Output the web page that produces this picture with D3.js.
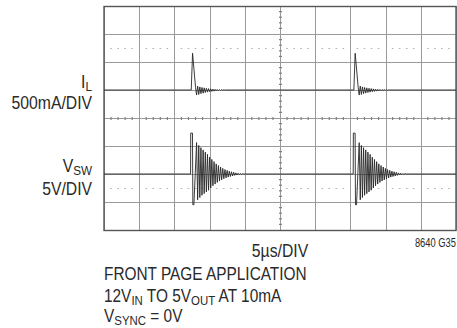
<!DOCTYPE html>
<meta charset="utf-8">
<style>
    body { margin: 0; background: #fff; }
    text { font-family: "Liberation Sans", Arial, sans-serif; fill: #2a2a2a; }
    .grid line { stroke: #9a9a9a; stroke-width: 1; }
    .trace { fill: none; stroke: #262626; stroke-width: 0.9; }
</style>
<script src="https://d3js.org/d3.v7.min.js"></script>
<svg width="457" height="328"></svg>
<script>
    // time axis: 5us/DIV, 10 divisions
    var timeDomain = [0, 50];
    // switching events (us)
    var eventTimes = [12.3, 35.4];

    // inductor current around one event (dt in us, mA)
    var ilT = [0, 0.09, 0.28, 0.71, 0.85, 1.0, 1.16, 1.31, 1.47, 1.62, 1.78, 1.93, 2.09, 2.24, 2.40, 2.55, 2.71, 2.86, 3.02, 3.17, 3.33, 3.48, 3.64, 3.79, 3.95, 4.10, 4.26, 4.41, 4.57, 4.72, 4.88, 5.0];
    var ilV = [0, 0, 655, 40, -90, 70, -80, 55, -65, 45, -55, 38, -45, 30, -38, 25, -30, 20, -25, 16, -20, 12, -15, 10, -12, 8, -9, 6, -6, 4, -4, 0];

    // switch node voltage around one event (dt in us, V)
    var vswT = [0, 0.02, 0.27, 0.32, 0.47, 0.85, 1.0, 1.16, 1.31, 1.47, 1.62, 1.78, 1.93, 2.09, 2.24, 2.40, 2.55, 2.71, 2.86, 3.02, 3.17, 3.33, 3.48, 3.64, 3.79, 3.95, 4.10, 4.26, 4.41, 4.57, 4.72, 4.88, 5.03, 5.19, 5.34, 5.50, 5.65, 5.81, 5.96, 6.12, 6.27, 6.43, 6.58, 6.74, 6.89, 7.05, 7.2, 7.36, 7.51];
    var vswV = [0, 7.3, 7.3, -5.5, -5.5, 5.6, -4.6, 5.1, -4.2, 4.7, -3.8, 4.3, -3.5, 3.9, -3.2, 3.5, -2.9, 3.0, -2.5, 2.6, -2.1, 2.2, -1.8, 1.8, -1.5, 1.5, -1.25, 1.25, -1.05, 1.0, -0.85, 0.8, -0.7, 0.65, -0.55, 0.5, -0.45, 0.4, -0.35, 0.3, -0.25, 0.2, -0.18, 0.15, -0.12, 0.1, -0.08, 0.05, 0];

    var svg = d3.select("svg");
    var pLeft = 104, pRight = 456, pTop = 6, pBottom = 230;

    var x = d3.scaleLinear().domain(timeDomain).range([pLeft, pRight]);
    var div = d3.scaleLinear().domain([-4, 4]).range([pBottom, pTop]);
    // channel scales: IL zero one div above centre, VSW zero two divs below
    var ilY = d3.scaleLinear().domain([-2500, 1500]).range([pBottom, pTop]);
    var vswY = d3.scaleLinear().domain([-10, 30]).range([pBottom, pTop]);

    var grid = svg.append("g").attr("class", "grid");
    grid.selectAll(".v").data(x.ticks(10)).enter().append("line")
        .attr("x1", function (d) { return Math.round(x(d)) + 0.5; })
        .attr("x2", function (d) { return Math.round(x(d)) + 0.5; })
        .attr("y1", pTop).attr("y2", pBottom);
    grid.selectAll(".h").data(div.ticks(8)).enter().append("line")
        .attr("y1", function (d) { return Math.round(div(d)) + 0.5; })
        .attr("y2", function (d) { return Math.round(div(d)) + 0.5; })
        .attr("x1", pLeft).attr("x2", pRight);

    // dotted lines at +/-2.5 div
    var minor = d3.range(0, 51).filter(function (d) { return d % 5 !== 0; });
    [2.5, -2.5].forEach(function (lv) {
        svg.append("g").selectAll("line").data(minor).enter().append("line")
            .attr("x1", function (d) { return x(d) - 0.8; })
            .attr("x2", function (d) { return x(d) + 0.8; })
            .attr("y1", Math.round(div(lv)) + 0.5)
            .attr("y2", Math.round(div(lv)) + 0.5)
            .attr("stroke", "#b0b0b0").attr("stroke-width", 1);
    });

    // minor ticks on centre lines
    var cy = Math.round(div(0)) + 0.5, cx = Math.round(x(25)) + 0.5;
    svg.append("g").selectAll("line").data(minor).enter().append("line")
        .attr("x1", function (d) { return x(d); })
        .attr("x2", function (d) { return x(d); })
        .attr("y1", cy - 1.5).attr("y2", cy + 1.5)
        .attr("stroke", "#808080").attr("stroke-width", 1.2);
    var minorV = d3.range(-4, 4.01, 0.2).filter(function (d) { return Math.abs(d - Math.round(d)) > 0.01; });
    svg.append("g").selectAll("line").data(minorV).enter().append("line")
        .attr("y1", function (d) { return div(d); })
        .attr("y2", function (d) { return div(d); })
        .attr("x1", cx - 1.5).attr("x2", cx + 1.5)
        .attr("stroke", "#808080").attr("stroke-width", 1.2);

    // frame
    svg.append("rect").attr("x", pLeft).attr("y", pTop + 0.5)
        .attr("width", pRight - pLeft).attr("height", pBottom - pTop)
        .attr("fill", "none").attr("stroke", "#555").attr("stroke-width", 1.4);

    function buildTrace(ts, vs) {
        var pts = [[timeDomain[0], 0]];
        eventTimes.forEach(function (t0) {
            ts.forEach(function (dt, i) { pts.push([t0 + dt, vs[i]]); });
        });
        pts.push([timeDomain[1], 0]);
        return pts;
    }

    svg.append("path").attr("class", "trace")
        .attr("d", d3.line()
            .x(function (d) { return x(d[0]); })
            .y(function (d) { return ilY(d[1]); })(buildTrace(ilT, ilV)));

    svg.append("path").attr("class", "trace")
        .attr("d", d3.line()
            .x(function (d) { return x(d[0]); })
            .y(function (d) { return vswY(d[1]); })(buildTrace(vswT, vswV)));

    // labels
    function label(px, py, anchor, size, sx, parts) {
        var t = svg.append("g").attr("transform", "translate(" + px + "," + py + ") scale(" + sx + ",1)")
            .append("text").attr("text-anchor", anchor).style("font-size", size + "px");
        var shift = 0;
        parts.forEach(function (p) {
            var sub = p[1];
            var dy = sub ? 3 - shift : -shift;
            shift = sub ? 3 : 0;
            t.append("tspan").attr("dy", dy).style("font-size", sub ? "13px" : null).text(p[0]);
        });
    }

    label(92, 87.5, "end", 17.5, 0.9, [["I"], ["L", 1]]);
    label(92, 108.5, "end", 17.5, 0.9, [["500mA/DIV"]]);
    label(92, 172, "end", 17.5, 0.9, [["V"], ["SW", 1]]);
    label(92, 195, "end", 17.5, 0.9, [["5V/DIV"]]);
    label(280, 256.5, "middle", 17.5, 0.9, [["5µs/DIV"]]);
    label(456, 246.5, "end", 12, 0.78, [["8640 G35"]]);
    label(104, 280, "start", 17.5, 0.88, [["FRONT PAGE APPLICATION"]]);
    label(104, 301.5, "start", 17.5, 0.88, [["12V"], ["IN", 1], [" TO 5V"], ["OUT", 1], [" AT 10mA"]]);
    label(104, 321.5, "start", 17.5, 0.88, [["V"], ["SYNC", 1], [" = 0V"]]);
</script>
